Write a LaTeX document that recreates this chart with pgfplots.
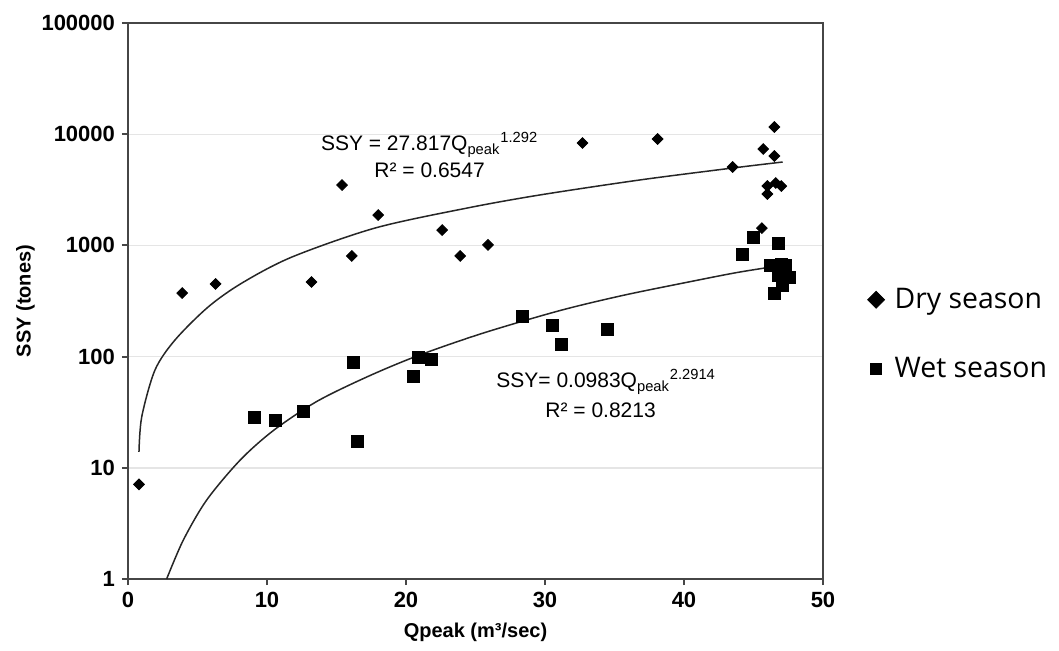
\documentclass[border=0pt]{standalone}
\usepackage{pgfplots}
\pgfplotsset{compat=1.18}
\usepackage{fontspec}
\setmainfont{Liberation Sans}
\newfontfamily\legfont{Open Sans}

\begin{document}
\begin{tikzpicture}
\useasboundingbox (-64pt,-35.5pt) rectangle (465.5pt,289.5pt);
\begin{axis}[
    at={(0,0)}, anchor=south west,
    scale only axis,
    width=347.5pt, height=278pt,
    xmin=0, xmax=50,
    ymode=log, ymin=1, ymax=100000,
    xtick={0,10,20,30,40,50},
    xticklabels={0,10,20,30,40,50},
    ytick={1,10,100,1000,10000,100000},
    yticklabels={1,10,100,1000,10000,100000},
    yminorticks=false,
    tick align=outside,
    tick pos=left,
    major tick length=3pt,
    ticklabel style={font=\bfseries\fontsize{11}{13}\selectfont},
    ymajorgrids,
    grid style={gray!20, line width=0.7pt},
    axis line style={gray!55!black, line width=1pt},
    major tick style={gray!55!black, line width=1pt},
    xlabel={Qpeak (m³/sec)},
    ylabel={SSY (tones)},
    label style={font=\bfseries\fontsize{10}{12}\selectfont},
    xlabel style={yshift=-1pt},
    ylabel style={yshift=-3.5pt},
    legend style={at={(1.055,0.44)}, anchor=west, draw=none, fill=none,
        font=\legfont\fontsize{14.2}{17}\selectfont, row sep=19pt},
    legend cell align=left,
]

% dry season trend line
\addplot[black!85, line width=0.75pt, smooth, forget plot] coordinates {
    (0.79,13.9) (0.99,28.8) (1.94,75.7) (3.38,141) (5.76,279) (8.2,459)
    (11.8,787) (17.8,1436) (24.4,2168) (29.6,2838) (36.8,3874)
    (43.5,4966) (47.1,5623)
};

% wet season trend line
\addplot[black!85, line width=0.75pt, smooth, forget plot] coordinates {
    (2.78,1) (3.98,2.24) (5.66,5.13) (8.06,11.7) (10.45,21.6) (13.58,39.5)
    (17.17,65.5) (20.77,101) (25.5,162) (31.1,260) (35.6,355)
    (40.0,460) (43.8,570) (47.0,660)
};

% dry season
\addplot[only marks, mark=square*, mark size=1.9pt,
    mark options={rotate=45, fill=black, draw=black},
    legend image post style={mark size=3pt}] coordinates {
    (0.79,7.1) (3.9,373) (6.3,450) (13.2,469) (15.4,3490) (16.1,804)
    (18.0,1875) (22.6,1374) (23.9,804) (25.9,1010) (32.7,8340)
    (38.1,9060) (43.5,5070) (46.5,11600) (45.7,7360) (46.5,6370)
    (46.0,3420) (46.6,3640) (47.0,3420) (46.0,2900) (45.6,1430)
};
\addlegendentry{\hspace{3pt}Dry season}

% wet season
\addplot[only marks, mark=square*, mark size=3pt,
    mark options={fill=black, draw=black},
    legend image post style={mark size=2.8pt}] coordinates {
    (9.06,28.6) (10.6,26.9) (12.6,32.4) (16.2,89) (16.5,17.4)
    (20.5,67) (20.9,99) (21.8,95) (28.4,232) (30.5,192) (31.2,130)
    (34.5,177) (44.2,838) (45.0,1190) (46.8,1050) (46.2,667)
    (47.0,681) (47.6,520) (47.1,440) (46.5,373) (46.8,542) (47.3,667)
};
\addlegendentry{\hspace{3pt}Wet season}

\node[font=\fontsize{10.5}{12}\selectfont] at (axis cs:21.7,8000)
    {SSY = 27.817Q\textsubscript{peak}\textsuperscript{1.292}};
\node[font=\fontsize{10.5}{12}\selectfont] at (axis cs:21.7,4760)
    {R² = 0.6547};
\node[font=\fontsize{10.5}{12}\selectfont] at (axis cs:34.4,59.2)
    {SSY= 0.0983Q\textsubscript{peak}\textsuperscript{2.2914}};
\node[font=\fontsize{10.5}{12}\selectfont] at (axis cs:34.0,33.1)
    {R² = 0.8213};

\end{axis}
\end{tikzpicture}
\end{document}
